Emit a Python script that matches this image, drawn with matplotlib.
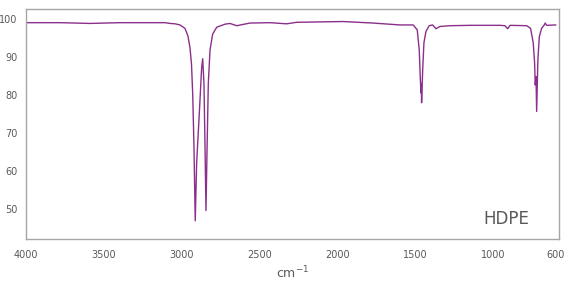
import matplotlib
matplotlib.use("Agg")
import matplotlib.pyplot as plt

# IR spectrum of HDPE (wavenumber cm-1, transmittance %)
wavenumber = [4000, 3782, 3589, 3396, 3107, 3075, 3043, 3011, 2979, 2960,
              2947, 2937, 2929, 2921, 2913, 2904, 2887, 2872, 2865, 2857,
              2850, 2844, 2837, 2829, 2818, 2801, 2775, 2722, 2690, 2647,
              2561, 2433, 2326, 2261, 1964, 1771, 1598, 1513, 1487, 1474,
              1467, 1463, 1461, 1459, 1452, 1444, 1431, 1410, 1388, 1367,
              1341, 1277, 1148, 956, 924, 906, 891, 784, 759, 742,
              733, 729, 724, 720, 712, 703, 688, 671, 665, 656, 598]
transmittance = [99.0, 99.0, 98.8, 99.0, 99.0, 98.8, 98.7, 98.4, 97.5, 95.5,
                 92.5, 88.0, 80.0, 66.0, 46.8, 62.0, 75.0, 87.0, 89.5, 83.0,
                 66.0, 49.5, 66.0, 83.0, 91.8, 96.0, 97.8, 98.6, 98.8, 98.2,
                 98.9, 99.0, 98.7, 99.1, 99.3, 98.9, 98.4, 98.4, 97.1, 91.8,
                 84.0, 80.5, 83.0, 77.9, 86.6, 93.7, 96.7, 98.2, 98.4, 97.4,
                 98.0, 98.2, 98.3, 98.3, 98.2, 97.4, 98.3, 98.2, 97.5, 93.7,
                 88.4, 82.6, 84.8, 75.6, 89.2, 95.3, 97.5, 98.4, 98.9, 98.3, 98.4]

x_ticks = [4000, 3500, 3000, 2500, 2000, 1500, 1000, 600]
y_ticks = [50, 60, 70, 80, 90, 100]
sample_name = "HDPE"

plt.rcParams['font.family'] = ['DejaVu Sans']

fig = plt.figure(figsize=(5.73, 2.86), dpi=100)
ax = fig.add_axes([0.0454, 0.1643, 0.930, 0.8042])

ax.plot(wavenumber, transmittance, color="#8a2f8a", lw=1.0)

ax.set_xlim(4000, 577)
ax.set_ylim(42, 102.6)
ax.set_xticks(x_ticks)
ax.set_yticks(y_ticks)
ax.tick_params(length=0, labelsize=7, colors="#595959")
ax.tick_params(axis="x", pad=8)
ax.tick_params(axis="y", pad=6)

for s in ax.spines.values():
    s.set_color("#a6a6a6")
    s.set_linewidth(1.0)

ax.set_xlabel(r"cm$^{-1}$", fontsize=9, color="#595959", labelpad=3)
ax.text(0.902, 0.087, sample_name, transform=ax.transAxes, fontsize=12,
        color="#595959", ha="center", va="center")

fig.savefig("out.png", dpi=100)
